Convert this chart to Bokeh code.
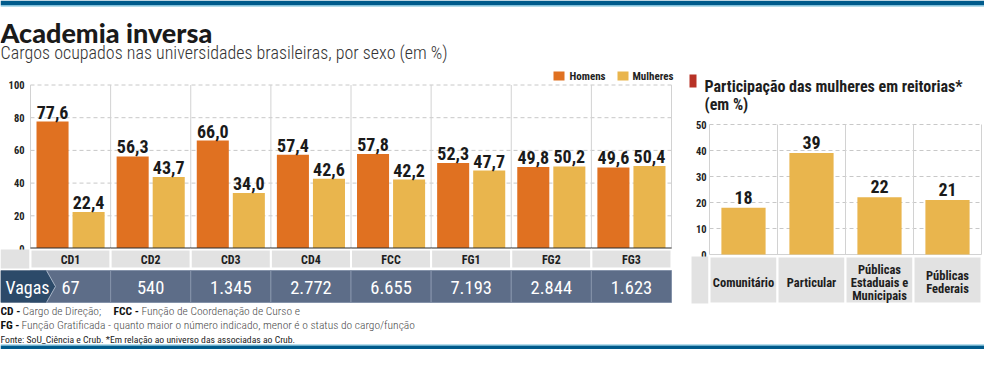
import numpy as np
from bokeh.plotting import figure
from bokeh.models import Range1d
from bokeh.core.properties import value
from bokeh.embed import file_html
from bokeh.resources import INLINE

# ---------------- data ----------------
cats = ["CD1", "CD2", "CD3", "CD4", "FCC", "FG1", "FG2", "FG3"]
homens = [77.6, 56.3, 66.0, 57.4, 57.8, 52.3, 49.8, 49.6]
mulheres = [22.4, 43.7, 34.0, 42.6, 42.2, 47.7, 50.2, 50.4]
vagas = ["67", "540", "1.345", "2.772", "6.655", "7.193", "2.844", "1.623"]
left_ticks = [0, 20, 40, 60, 80, 100]
series_names = ["Homens", "Mulheres"]

reit_cats = ["Comunitário", "Particular", "Públicas\nEstaduais e\nMunicipais", "Públicas\nFederais"]
reit_vals = [18, 39, 22, 21]
right_ticks = [0, 10, 20, 30, 40, 50]

title = "Academia inversa"
subtitle = "Cargos ocupados nas universidades brasileiras, por sexo (em %)"
right_title = ["Participação das mulheres em reitorias*", "(em %)"]
note1 = [("CD - ", True), ("Cargo de Direção; ", False), ("FCC - ", True), ("Função de Coordenação de Curso e", False)]
note2 = [("FG - ", True), ("Função Gratificada - quanto maior o número indicado, menor é o status do cargo/função", False)]
source = "Fonte: SoU_Ciência e Crub. *Em relação ao universo das associadas ao Crub."

# ---------------- styles ----------------
W, H = 984, 349
ORANGE = "#E07121"
YELLOW = "#E9B54D"
GRAY_CELL = "#E2E2E2"
VAGAS_BG = "#5D6D88"
VAGAS_DARK = "#2C4A69"
BLUE = "#005B8C"
LIGHT_BLUE = "#6FBAD8"
NARROW = value("Roboto Condensed, Roboto")
LIGHT = value("Roboto Condensed Light, Roboto Condensed, Roboto")
HEAVY = value("Lato Black, Lato")

# left chart geometry (design px)
L_X0, L_BW = 30.0, 80.125
L_Y0, L_PX = 248.0, 1.635
# right chart geometry
R_X0, R_BW = 709.0, 68.0
R_Y0, R_PX = 254.0, 2.6

p = figure(width=W, height=H, x_range=Range1d(0, W), y_range=Range1d(H, 0),
           x_axis_type=None, y_axis_type=None, output_backend="svg",
           toolbar_location=None, min_border=0, outline_line_color=None)
p.background_fill_color = "white"
p.border_fill_color = "white"
p.extra_x_ranges = {
    "lx": Range1d(-L_X0 / L_BW, (W - L_X0) / L_BW),
    "rx": Range1d(-R_X0 / R_BW, (W - R_X0) / R_BW),
}
p.extra_y_ranges = {
    "ly": Range1d(-(H - L_Y0) / L_PX, L_Y0 / L_PX),
    "ry": Range1d(-(H - R_Y0) / R_PX, R_Y0 / R_PX),
}


def txt(x, y, s, size, bold=False, color="#222222", align="left", baseline="middle",
        font=NARROW, **kw):
    p.text(x=list(x), y=list(y), text=list(s), text_font=font, text_font_size=f"{size}px",
           text_font_style="bold" if bold else "normal", text_color=color,
           text_align=align, text_baseline=baseline, **kw)


# ---------------- header ----------------
p.quad(left=[0], right=[W], top=[0], bottom=[4.7], fill_color=BLUE, line_color=None)
p.quad(left=[0], right=[W], top=[4.7], bottom=[6], fill_color=LIGHT_BLUE, line_color=None)
txt([0], [32], [title], 27, color="#1a1a1a", baseline="alphabetic", font=HEAVY)
txt([0], [52], [subtitle], 18, color="#333333", baseline="alphabetic", font=LIGHT)

# ---------------- left chart ----------------
n = len(cats)
idx = np.arange(n)
LR = dict(x_range_name="lx", y_range_name="ly")
gt = left_ticks[1:]
p.segment(x0=[0] * len(gt), x1=[n] * len(gt), y0=gt, y1=gt, line_color="#C8C8C8",
          line_dash="4 3", line_width=1, **LR)
b = list(range(n + 1))
p.segment(x0=b, x1=b, y0=[0] * len(b), y1=[left_ticks[-1]] * len(b), line_color="#D2D2D2",
          line_width=1, **LR)
p.vbar(x=idx + 0.275, top=homens, bottom=0, width=0.4, fill_color=ORANGE, line_color=None, **LR)
p.vbar(x=idx + 0.725, top=mulheres, bottom=0, width=0.4, fill_color=YELLOW, line_color=None, **LR)
p.segment(x0=[0], x1=[n], y0=[0], y1=[0], line_color="#2A2A2A", line_width=2, **LR)
fmt = lambda v: f"{v:.1f}".replace(".", ",")
txt(idx + 0.275, homens, [fmt(v) for v in homens], 18, bold=True, color="#1a1a1a",
    align="center", baseline="bottom", y_offset=-3, **LR)
txt(idx + 0.725, mulheres, [fmt(v) for v in mulheres], 18, bold=True, color="#1a1a1a",
    align="center", baseline="bottom", y_offset=-3, **LR)
txt([24] * len(left_ticks), left_ticks, [str(t) for t in left_ticks], 10.5, bold=True,
    color="#222222", align="right", y_range_name="ly")
# category row
p.quad(left=[0], right=[29], top=[249], bottom=[268], fill_color=GRAY_CELL, line_color=None)
p.quad(left=idx, right=idx + 1, top=[249] * n, bottom=[268] * n, fill_color=GRAY_CELL,
       line_color="white", line_width=2, x_range_name="lx")
txt(idx + 0.5, [259] * n, cats, 12, bold=True, color="#1e1e1e", align="center",
    x_range_name="lx")
# vagas row
p.quad(left=[0], right=[31], top=[270], bottom=[302], fill_color=VAGAS_BG, line_color=None)
p.quad(left=idx, right=idx + 1, top=[270] * n, bottom=[302] * n, fill_color=VAGAS_BG,
       line_color="#8492A9", line_width=1, x_range_name="lx")
p.patch(x=[0, 46, 55, 46, 0], y=[270, 270, 286, 302, 302], fill_color=VAGAS_DARK, line_color=None)
p.line(x=[46, 55, 46], y=[270, 286, 302], line_color="#A9B6C8", line_width=1)
txt([5], [287], ["Vagas"], 18, color="white")
txt(idx + 0.5, [287] * n, vagas, 18.5, color="white", align="center", x_range_name="lx")
# legend
p.quad(left=[553, 617], right=[564, 628], top=[71, 71], bottom=[80, 80],
       fill_color=[ORANGE, YELLOW], line_color=None)
txt([569, 632], [76, 76], series_names, 11, bold=True, color="#222222")

# ---------------- right chart ----------------
m = len(reit_cats)
ridx = np.arange(m)
RR = dict(x_range_name="rx", y_range_name="ry")
p.quad(left=[689], right=[696], top=[74], bottom=[87], fill_color="#B83226", line_color=None)
txt([704, 704], [86, 104], right_title, 16, bold=True, color="#1e1e1e", baseline="alphabetic")
rgt = right_ticks[1:]
p.segment(x0=[0] * len(rgt), x1=[m] * len(rgt), y0=rgt, y1=rgt, line_color="#C8C8C8",
          line_dash="4 3", line_width=1, **RR)
rb = list(range(m + 1))
p.segment(x0=rb, x1=rb, y0=[0] * len(rb), y1=[right_ticks[-1]] * len(rb), line_color="#D2D2D2",
          line_width=1, **RR)
p.segment(x0=[0], x1=[m], y0=[0], y1=[0], line_color="#D2D2D2", line_width=1, **RR)
p.vbar(x=ridx + 0.5, top=reit_vals, bottom=0, width=0.65, fill_color=YELLOW, line_color=None, **RR)
txt(ridx + 0.5, reit_vals, [str(v) for v in reit_vals], 18, bold=True, color="#1a1a1a",
    align="center", baseline="bottom", y_offset=-4, **RR)
txt([706] * len(right_ticks), right_ticks, [str(t) for t in right_ticks], 10.5, bold=True,
    color="#222222", align="right", y_range_name="ry")
p.quad(left=[691], right=[708], top=[256], bottom=[303], fill_color=GRAY_CELL, line_color=None)
p.quad(left=ridx, right=ridx + 1, top=[256] * m, bottom=[303] * m, fill_color=GRAY_CELL,
       line_color="white", line_width=2, x_range_name="rx")
lx_, ly_, lt_ = [], [], []
for i, c in enumerate(reit_cats):
    lines = c.split("\n")
    for k, s in enumerate(lines):
        lx_.append(i + 0.5)
        ly_.append(281.5 + (k - (len(lines) - 1) / 2) * 13)
        lt_.append(s)
txt(lx_, ly_, lt_, 12.5, bold=True, color="#1e1e1e", align="center", x_range_name="rx")

# ---------------- footer ----------------
for (segs, y, xs) in [(note1, 310, [0, 22, 113, 141]), (note2, 324, [0, 21])]:
    for (s, bold), x in zip(segs, xs):
        txt([x], [y], [s], 11.5, bold=bold, color="#111111" if bold else "#4a4a4a",
            font=NARROW if bold else LIGHT)
txt([0], [339], [source], 9.7, color="#222222")
p.quad(left=[0], right=[W], top=[344], bottom=[345.3], fill_color=LIGHT_BLUE, line_color=None)
p.quad(left=[0], right=[W], top=[345.3], bottom=[349], fill_color=BLUE, line_color=None)

open("out.html", "w").write(file_html(p, INLINE))
